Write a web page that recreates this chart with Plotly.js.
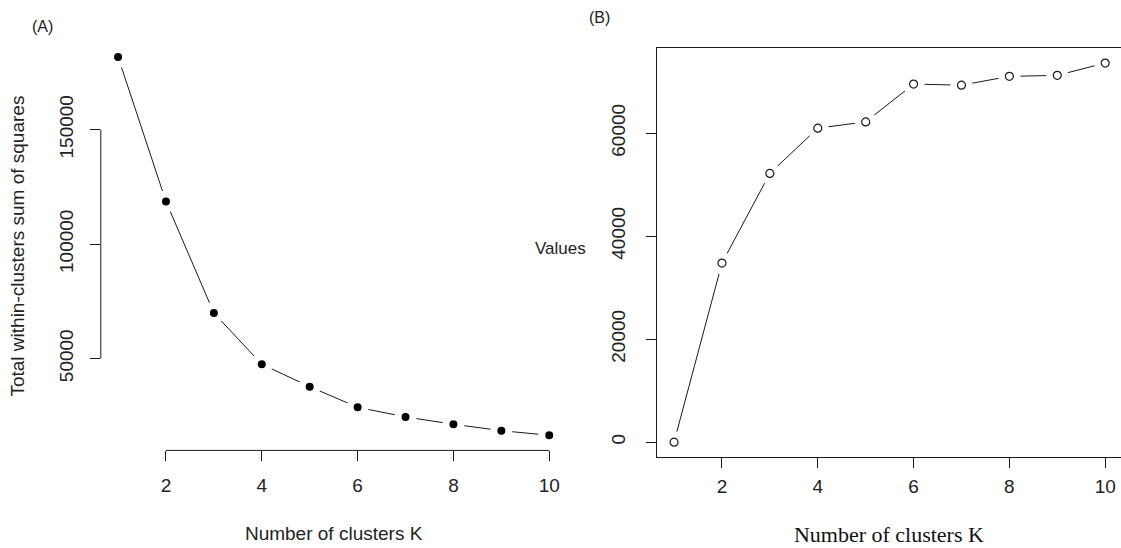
<!DOCTYPE html>
<html>
<head>
<meta charset="utf-8">
<script src="https://cdn.plot.ly/plotly-3.0.1.min.js"></script>
<style>html,body{margin:0;padding:0;background:#fff;}#chart{width:1121px;height:548px;}</style>
</head>
<body>
<div id="chart"></div>
<script>
// ---- data ----
const clustersK = [1, 2, 3, 4, 5, 6, 7, 8, 9, 10];
const withinSS = [181750, 118600, 69910, 47510, 37730, 28730, 24500, 21310, 18510, 16500];
const valuesB = [0, 34760, 52180, 60960, 62180, 69520, 69310, 71020, 71210, 73600];
const xTickVals = [2, 4, 6, 8, 10];
const yTickValsA = [50000, 100000, 150000];
const yTickValsB = [0, 20000, 40000, 60000];
const panelLabels = ['(A)', '(B)'];
const xTitleText = 'Number of clusters K';
const yTitleA = 'Total within-clusters sum of squares';
const yTitleB = 'Values';

// ---- helpers ----
const W = 1121, H = 548;
function padded(arr) { const lo = Math.min(...arr), hi = Math.max(...arr), p = (hi - lo) * 0.04; return [lo - p, hi + p]; }
const dx = (a, b) => [a / W, b / W];
const dy = (top, bottom) => [1 - bottom / H, 1 - top / H];
const ink = '#1a1a1a';
const sans = 'Liberation Sans, Arial, sans-serif';
const serif = 'Liberation Serif, Times New Roman, serif';

const xr = padded(clustersK);

const traces = [
  // panel A: connecting line, then points with a white halo that opens a gap in the line
  { x: clustersK, y: withinSS, xaxis: 'x', yaxis: 'y', mode: 'lines', line: { color: ink, width: 1 },
    hoverinfo: 'skip', showlegend: false },
  { x: clustersK, y: withinSS, xaxis: 'x', yaxis: 'y', mode: 'markers',
    marker: { color: '#000', size: 15, line: { color: '#ffffff', width: 7 } }, showlegend: false },
  // panel B
  { x: clustersK, y: valuesB, xaxis: 'x2', yaxis: 'y2', mode: 'lines', line: { color: ink, width: 1 },
    hoverinfo: 'skip', showlegend: false },
  { x: clustersK, y: valuesB, xaxis: 'x2', yaxis: 'y2', mode: 'markers',
    marker: { color: '#ffffff', size: 22 }, hoverinfo: 'skip', showlegend: false },
  { x: clustersK, y: valuesB, xaxis: 'x2', yaxis: 'y2', mode: 'markers',
    marker: { color: '#ffffff', size: 8, line: { color: ink, width: 1.2 } }, showlegend: false }
];

const tickCommon = { ticks: 'outside', ticklen: 10, tickcolor: ink, tickwidth: 1, showgrid: false, zeroline: false,
  tickfont: { family: sans, size: 19, color: '#222' } };

const layout = {
  width: W, height: H,
  margin: { l: 0, r: 0, t: 0, b: 0 },
  paper_bgcolor: '#ffffff', plot_bgcolor: '#ffffff',
  showlegend: false,
  xaxis: Object.assign({}, tickCommon, { domain: dx(100.8, 566.5), range: xr, tickvals: xTickVals,
    ticktext: xTickVals.map(String), ticklabelstandoff: 8, showline: false, anchor: 'y',
    title: { text: xTitleText, font: { family: sans, size: 19, color: '#222' }, standoff: 31 } }),
  yaxis: Object.assign({}, tickCommon, { domain: dy(41.8, 450.4), range: padded(withinSS), tickvals: yTickValsA,
    ticktext: yTickValsA.map(String), tickangle: -90, ticklabelstandoff: 9, showline: false, anchor: 'x',
    title: { text: yTitleA, font: { family: sans, size: 19, color: '#222' }, standoff: 26 } }),
  xaxis2: Object.assign({}, tickCommon, { domain: dx(656.8, 1121), range: [xr[0], 10.33], tickvals: xTickVals,
    ticktext: xTickVals.map(String), ticklabelstandoff: 2,
    showline: true, mirror: true, linecolor: ink, linewidth: 1, anchor: 'y2',
    title: { text: xTitleText, font: { family: serif, size: 22, color: '#111' }, standoff: 30 } }),
  yaxis2: Object.assign({}, tickCommon, { domain: dy(47.9, 457.3), range: padded(valuesB), tickvals: yTickValsB,
    ticktext: yTickValsB.map(String), tickangle: -90, ticklabelstandoff: 13,
    showline: true, mirror: false, linecolor: ink, linewidth: 1, anchor: 'x2' }),
  shapes: [
    // panel A axis lines run from first to last tick (base-graphics style)
    { type: 'line', xref: 'x', yref: 'y domain', x0: xTickVals[0], x1: xTickVals[xTickVals.length - 1], y0: 0, y1: 0,
      line: { color: ink, width: 1 } },
    { type: 'line', xref: 'x domain', yref: 'y', x0: 0, x1: 0, y0: yTickValsA[0], y1: yTickValsA[yTickValsA.length - 1],
      line: { color: ink, width: 1 } }
  ],
  annotations: [
    { text: panelLabels[0], xref: 'paper', yref: 'paper', x: 42 / W, y: 1 - 27 / H, showarrow: false,
      xanchor: 'center', yanchor: 'middle', font: { family: sans, size: 16, color: '#222' } },
    { text: panelLabels[1], xref: 'paper', yref: 'paper', x: 599 / W, y: 1 - 17 / H, showarrow: false,
      xanchor: 'center', yanchor: 'middle', font: { family: sans, size: 16, color: '#222' } },
    { text: yTitleB, xref: 'paper', yref: 'paper', x: 560 / W, y: 1 - 249 / H, showarrow: false,
      xanchor: 'center', yanchor: 'middle', font: { family: sans, size: 17, color: '#222' } }
  ]
};

Plotly.newPlot('chart', traces, layout, { displayModeBar: false, staticPlot: true });
</script>
</body>
</html>
